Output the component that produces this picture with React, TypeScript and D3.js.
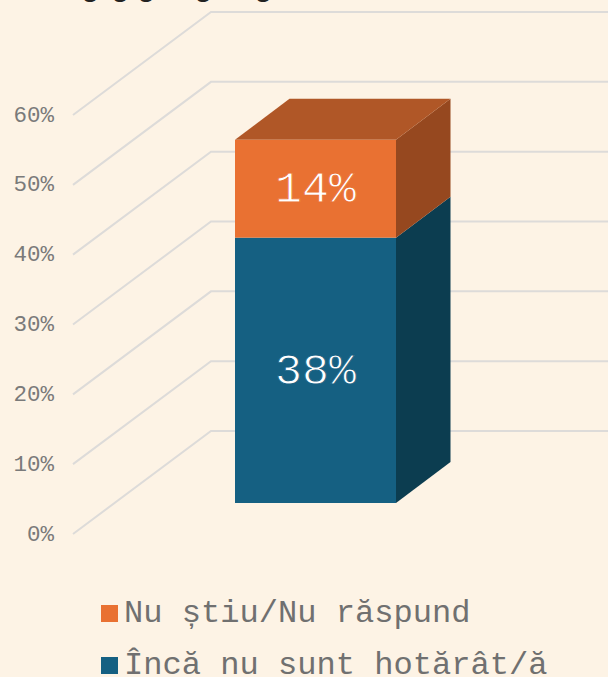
import React from 'react';
import * as d3 from 'd3';

// data
const series = ['Încă nu sunt hotărât/ă', 'Nu știu/Nu răspund'];
const values = [38, 14];
const colors = ['#156082', '#E97132'];
const topColors = ['#115068', '#B05727'];
const sideColors = ['#0C3D50', '#96481F'];
const ticks = [0, 10, 20, 30, 40, 50, 60];
const legendOrder = [1, 0];

// the title is cropped by the top edge, only its descenders show
const titleGlyphs = 'ggggg';
const titleGlyphX = '81 111 137 194 254';

const font = '"Liberation Mono", monospace';
const width = 608;
const height = 677;

// back wall of the 3d box
const wallY = d3.scaleLinear().domain([0, 60]).range([431, 12]);
const wallX = 211;
const floorDx = -138;
const floorDy = 103;

// bar sits in front of the wall
const barX = d3.scaleBand().domain(['bar']).range([235, 396]);
const barY = d3.scaleLinear().domain([0, 60]).range([503, 84]);
const depthDx = 54.5;
const depthDy = -41;

const line = d3.line();

export default function App() {
  const stacked = d3.stack().keys(series)([
    Object.fromEntries(series.map((s, i) => [s, values[i]])) as any,
  ]);
  const x0 = barX('bar') as number;
  const x1 = x0 + barX.bandwidth();

  return (
    <svg
      width={width}
      height={height}
      style={{ position: 'absolute', left: 0, top: 0, background: '#FDF3E5' }}
    >
      <text x={titleGlyphX} y={-4} fontFamily={font} fontSize={30} fontWeight="bold" fill="#222222">
        {titleGlyphs}
      </text>

      {/* grid */}
      <g fill="none" stroke="#DDDBD9" strokeWidth={2}>
        {ticks.map(t => (
          <path
            key={t}
            d={line([
              [wallX + floorDx, wallY(t) + floorDy],
              [wallX, wallY(t)],
              [width, wallY(t)],
            ]) as string}
          />
        ))}
      </g>

      {/* y axis labels */}
      <g fontFamily={font} fontSize={22.5} fill="#7A7A7A" textAnchor="end">
        {ticks.map(t => (
          <text key={t} x={54} y={wallY(t) + floorDy + 6.5}>{t}%</text>
        ))}
      </g>

      {/* bars */}
      {stacked.map((s, i) => {
        const yBottom = barY(s[0][0]);
        const yTop = barY(s[0][1]);
        return (
          <g key={s.key}>
            <path
              fill={sideColors[i]}
              d={line([
                [x1, yBottom],
                [x1 + depthDx, yBottom + depthDy],
                [x1 + depthDx, yTop + depthDy],
                [x1, yTop],
              ]) + 'Z'}
            />
            {i === stacked.length - 1 && (
              <path
                fill={topColors[i]}
                d={line([
                  [x0, yTop],
                  [x0 + depthDx, yTop + depthDy],
                  [x1 + depthDx, yTop + depthDy],
                  [x1, yTop],
                ]) + 'Z'}
              />
            )}
            <rect x={x0} y={yTop} width={x1 - x0} height={yBottom - yTop} fill={colors[i]} />
            {/* stroke in bar colour thins the glyphs, reference font is light */}
            <text
              x={(x0 + x1) / 2}
              y={(yTop + yBottom) / 2 + 13.5}
              textAnchor="middle"
              fontFamily={font}
              fontSize={45}
              fill="#FFFFFF"
              stroke={colors[i]}
              strokeWidth={0.9}
            >
              {values[i]}%
            </text>
          </g>
        );
      })}

      {/* legend */}
      {legendOrder.map((idx, row) => (
        <g key={idx} transform={`translate(101,${605 + row * 52})`}>
          <rect width={17} height={17} fill={colors[idx]} />
          <text x={23} y={17} fontFamily={font} fontSize={32.1} fill="#707070">{series[idx]}</text>
        </g>
      ))}
    </svg>
  );
}
